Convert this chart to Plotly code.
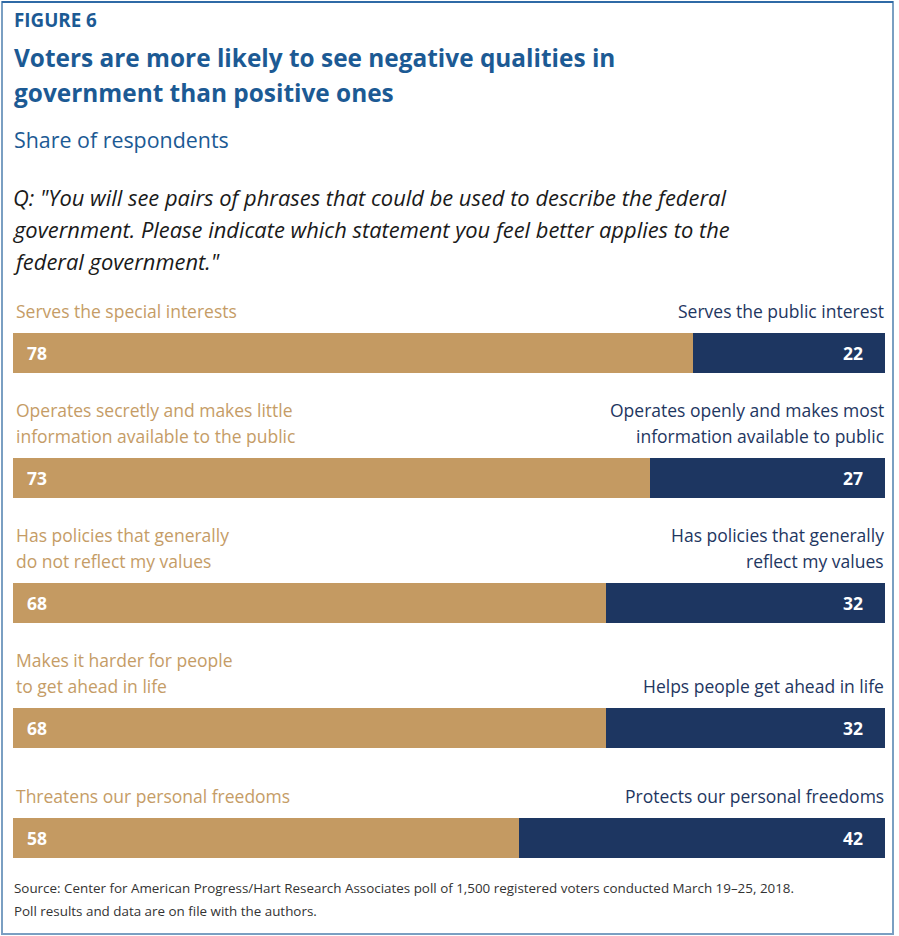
import plotly.graph_objects as go

# ---- data ----
negative_labels = [
    "Serves the special interests",
    "Operates secretly and makes little<br>information available to the public",
    "Has policies that generally<br>do not reflect my values",
    "Makes it harder for people<br>to get ahead in life",
    "Threatens our personal freedoms",
]
positive_labels = [
    "Serves the public interest",
    "Operates openly and makes most<br>information available to public",
    "Has policies that generally<br>reflect my values",
    "Helps people get ahead in life",
    "Protects our personal freedoms",
]
negative_values = [78, 73, 68, 68, 58]
positive_values = [22, 27, 32, 32, 42]

fig_label = "FIGURE 6"
title_lines = ["Voters are more likely to see negative qualities in",
               "government than positive ones"]
subtitle = "Share of respondents"
question_lines = ['Q: "You will see pairs of phrases that could be used to describe the federal',
                  'government. Please indicate which statement you feel better applies to the',
                  'federal government."']
source_lines = ["Source: Center for American Progress/Hart Research Associates poll of 1,500 registered voters conducted March 19\u201325, 2018.",
                "Poll results and data are on file with the authors."]

# ---- style ----
W, H = 899, 936
TAN = "#c49a62"
NAVY = "#1d3661"
TAN_TXT = "#c59c66"
NAVY_TXT = "#1e3661"
BLUE = "#1c5a94"
FONT = "Open Sans, Noto Sans, sans-serif"

BAR_H = 40
LINE = 26
first_bar_top = 333

# layout positions derived from the number of label lines
nlines = [max(a.count("<br>"), b.count("<br>")) + 1 for a, b in zip(negative_labels, positive_labels)]
bar_tops = []
for i, n in enumerate(nlines):
    if i == 0:
        bar_tops.append(first_bar_top)
    else:
        bar_tops.append(bar_tops[-1] + BAR_H + max(LINE * n + 11, 48) + 22)
bar_centers = [t + BAR_H / 2 for t in bar_tops]

fig = go.Figure()
fig.add_trace(go.Bar(y=bar_centers, x=negative_values, orientation="h", width=BAR_H,
                     marker=dict(color=TAN, line=dict(width=0)), hoverinfo="skip"))
fig.add_trace(go.Bar(y=bar_centers, x=positive_values, orientation="h", width=BAR_H,
                     marker=dict(color=NAVY, line=dict(width=0)), hoverinfo="skip"))

ann = []
def txt(text, x, y, size, color, xanchor="left", xref="paper", bold=False, italic=False,
        family=FONT, xshift=0):
    t = f"<b>{text}</b>" if bold else text
    t = f"<i>{t}</i>" if italic else t
    ann.append(dict(text=t, x=x, y=y, xref=xref, yref="y", xanchor=xanchor, yanchor="middle",
                    showarrow=False, xshift=xshift,
                    font=dict(family=family, size=size, color=color)))

# header
txt(fig_label, 0, 20, 18.8, BLUE, bold=True, xshift=-1)
for k, line in enumerate(title_lines):
    txt(line, 0, 57 + 35 * k, 24.4, BLUE, bold=True, xshift=-1)
txt(subtitle, 0, 139, 21.4, BLUE, xshift=-1)
for k, line in enumerate(question_lines):
    txt(line, 0, 197 + 32 * k, 21.9, "#1a1a1a", italic=True, xshift=-2)

# row labels and values
for i in range(len(negative_values)):
    top = bar_tops[i]
    neg = negative_labels[i].split("<br>")
    pos = positive_labels[i].split("<br>")
    for k, line in enumerate(neg):
        txt(line, 0, top - 22 - LINE * (len(neg) - 1 - k), 17.5, TAN_TXT, xref="x", xshift=1)
    for k, line in enumerate(pos):
        txt(line, 100, top - 22 - LINE * (len(pos) - 1 - k), 17.5, NAVY_TXT, xanchor="right", xref="x", xshift=1)
    txt(str(negative_values[i]), 0, bar_centers[i], 17.5, "white", xref="x", bold=True, xshift=12)
    txt(str(positive_values[i]), 100, bar_centers[i], 17.5, "white", xanchor="right", xref="x", bold=True, xshift=-20)

# source
for k, line in enumerate(source_lines):
    txt(line, 0, 888 + 23 * k, 13.4, "#333333", xshift=-1)

fig.update_layout(
    width=W, height=H,
    margin=dict(l=13, r=14, t=0, b=0, pad=0),
    paper_bgcolor="white", plot_bgcolor="white",
    barmode="stack", bargap=0, showlegend=False,
    xaxis=dict(range=[0, 100], visible=False, fixedrange=True),
    yaxis=dict(range=[H, 0], visible=False, fixedrange=True),
    annotations=ann,
    shapes=[
        dict(type="rect", xref="paper", yref="y", x0=-11 / 872, x1=1 + 8 / 872, y0=2, y1=934,
             line=dict(color="#7a9fc2", width=2), fillcolor="rgba(0,0,0,0)", layer="below"),
        dict(type="line", xref="paper", yref="y", x0=-11 / 872, x1=1 + 8 / 872, y0=2, y1=2,
             line=dict(color="#2f6aa6", width=2)),
    ],
)

fig.write_html("out.html", config={"displayModeBar": False},
               post_script="document.body.style.margin='0';document.body.style.overflow='hidden';")
